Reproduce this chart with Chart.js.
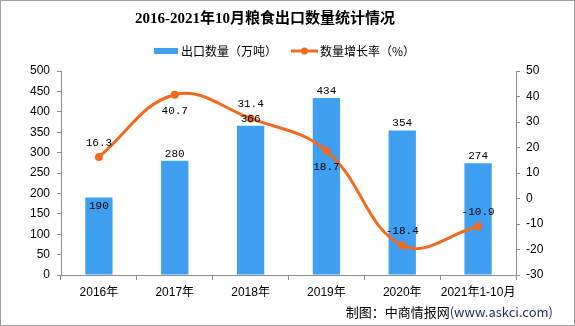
<!DOCTYPE html>
<html><head><meta charset="utf-8">
<script src="https://cdn.jsdelivr.net/npm/chart.js@4.4.1/dist/chart.umd.min.js"></script>
<style>html,body{margin:0;padding:0;background:#fff;}#wrap{width:575px;height:326px;}</style>
</head><body><div id="wrap"><canvas id="c" width="575" height="326"></canvas></div>
<script>
const categories = ['2016年','2017年','2018年','2019年','2020年','2021年1-10月'];
const exportVolume = [190, 280, 366, 434, 354, 274];
const growthRate = [16.3, 40.7, 31.4, 18.7, -18.4, -10.9];
const volumeAxis = {min: 0, max: 500, step: 50};
const rateAxis = {min: -30, max: 50, step: 10};
const seriesNames = ['出口数量（万吨）', '数量增长率（%）'];
const titleText = '2016-2021年10月粮食出口数量统计情况';
const sourceText = '制图：中商情报网';
const sourceUrl = '(www.askci.com)';

const BAR_COLOR = '#3F9FF0';
const LINE_COLOR = '#F26A22';
const AXIS_COLOR = '#8c8c8c';
const CJK = '"Noto Sans CJK SC"';
const TICK_FONT = {family: '"Liberation Sans", ' + CJK, size: 12};
const LABEL_FONT = '11px "Liberation Mono", monospace';

// label placement: bar labels above the bar top except where marked inside; line labels above/below point
const barLabelInside = [true, false, false, false, false, false];
const lineLabelBelow = [false, true, false, true, false, false];

const overlay = {
  id: 'overlay',
  beforeDraw(chart) {
    const ctx = chart.ctx;
    ctx.save(); ctx.fillStyle = '#fff'; ctx.fillRect(0, 0, chart.width, chart.height); ctx.restore();
  },
  afterDatasetsDraw(chart) {
    const ctx = chart.ctx;
    ctx.save();
    ctx.font = LABEL_FONT; ctx.fillStyle = '#000'; ctx.textAlign = 'center'; ctx.textBaseline = 'middle';
    const barMeta = chart.getDatasetMeta(1);
    barMeta.data.forEach((el, i) => {
      const y = barLabelInside[i] ? el.y + 9 : el.y - 7;
      ctx.fillText(String(chart.data.datasets[1].data[i]), el.x, y);
    });
    const lineMeta = chart.getDatasetMeta(0);
    lineMeta.data.forEach((el, i) => {
      const y = lineLabelBelow[i] ? el.y + 16 : el.y - 14;
      ctx.fillText(chart.data.datasets[0].data[i].toFixed(1), el.x, y);
    });
    ctx.restore();
  },
  afterDraw(chart) {
    const ctx = chart.ctx;
    ctx.save();
    ctx.strokeStyle = '#a0a0a0'; ctx.lineWidth = 1; ctx.strokeRect(0.5, 0.5, chart.width - 1, chart.height - 1);
    // title
    ctx.fillStyle = '#000'; ctx.textAlign = 'center'; ctx.textBaseline = 'middle';
    ctx.font = 'bold 15px "Liberation Serif", ' + CJK;
    ctx.fillText(titleText, 265, 19);
    // legend
    ctx.font = '12px ' + CJK; ctx.textAlign = 'left';
    ctx.fillStyle = BAR_COLOR; ctx.fillRect(154, 48, 24, 6);
    ctx.fillStyle = '#000'; ctx.fillText(chart.data.datasets[1].label, 181, 51);
    ctx.strokeStyle = LINE_COLOR; ctx.lineWidth = 3;
    ctx.beginPath(); ctx.moveTo(291, 51); ctx.lineTo(318, 51); ctx.stroke();
    ctx.fillStyle = LINE_COLOR; ctx.beginPath(); ctx.arc(304.5, 51, 3.5, 0, Math.PI * 2); ctx.fill();
    ctx.fillStyle = '#000'; ctx.fillText(chart.data.datasets[0].label, 320, 51);
    // source
    ctx.font = '13px ' + CJK; ctx.textAlign = 'right';
    const uw = ctx.measureText(sourceUrl).width;
    ctx.fillStyle = '#1f2a5a'; ctx.fillText(sourceUrl, 553, 312);
    ctx.fillStyle = '#000'; ctx.fillText(sourceText, 553 - uw, 312);
    ctx.restore();
  }
};

new Chart(document.getElementById('c'), {
  type: 'bar',
  data: {
    labels: categories,
    datasets: [
      {type: 'line', label: seriesNames[1], data: growthRate, yAxisID: 'y1', order: 0,
       borderColor: LINE_COLOR, backgroundColor: LINE_COLOR, borderWidth: 3, tension: 0.4,
       pointRadius: 4, pointBackgroundColor: LINE_COLOR, pointBorderWidth: 0},
      {type: 'bar', label: seriesNames[0], data: exportVolume, yAxisID: 'y', order: 1,
       backgroundColor: BAR_COLOR, barPercentage: 0.36, categoryPercentage: 1}
    ]
  },
  options: {
    responsive: false, animation: false, devicePixelRatio: 1,
    layout: {padding: {top: 71, left: 0, right: 0, bottom: 0}},
    plugins: {legend: {display: false}, title: {display: false}, tooltip: {enabled: false}},
    scales: {
      x: {
        grid: {drawOnChartArea: false, drawTicks: true, tickLength: 5, color: AXIS_COLOR, offset: true},
        border: {color: AXIS_COLOR},
        ticks: {font: TICK_FONT, color: '#000', padding: 5, maxRotation: 0, autoSkip: false},
        afterFit(s) { s.height = 51; }
      },
      y: {
        position: 'left', min: volumeAxis.min, max: volumeAxis.max,
        ticks: {stepSize: volumeAxis.step, font: TICK_FONT, color: '#000', padding: 7},
        grid: {drawOnChartArea: false, drawTicks: true, tickLength: 4, color: AXIS_COLOR},
        border: {color: AXIS_COLOR},
        afterFit(s) { s.width = 61; }
      },
      y1: {
        position: 'right', min: rateAxis.min, max: rateAxis.max,
        ticks: {stepSize: rateAxis.step, font: TICK_FONT, color: '#000', padding: 6},
        grid: {drawOnChartArea: false, drawTicks: true, tickLength: 4, color: AXIS_COLOR},
        border: {color: AXIS_COLOR},
        afterFit(s) { s.width = 59; }
      }
    }
  },
  plugins: [overlay]
});
</script>
</body></html>
